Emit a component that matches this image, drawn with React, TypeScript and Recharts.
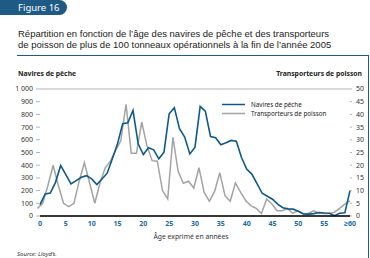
import { CartesianGrid, Line, LineChart, XAxis, YAxis } from "recharts";

// nombre de navires de pêche (axe gauche), par âge 0..60
const navires = [
  90, 174, 180, 265, 397, 326, 253, 279, 305, 318, 292, 247, 292, 337, 450,
  568, 726, 734, 832, 568, 484, 537, 521, 450, 503, 805, 853, 687, 621, 489,
  542, 863, 826, 626, 616, 561, 576, 595, 589, 460, 370, 330, 255, 179, 156,
  132, 94, 65, 56, 54, 38, 16, 15, 19, 27, 24, 22, 3, 22, 25, 200,
];

// transporteurs de poisson (axe droit)
const transporteurs = [
  3, 5, 12, 20, 12, 5, 3.7, 5, 13.7, 21, 13, 5, 13, 19, 21.6, 25.8, 29.7, 44,
  24.7, 24.7, 37, 27.8, 21.8, 21.6, 10, 6.7, 31, 17.6, 12.9, 13.7, 11, 19, 9.3,
  5.8, 9.7, 17, 8, 5.8, 13, 9.3, 6, 4, 3, 1, 6.7, 4.7, 2.1, 2.1, 3, 1, 2, 0.8,
  1, 2, 1.2, 1, 1, 1.5, 3, 4.7, 6,
];

const xTicks = [0, 5, 10, 15, 20, 25, 30, 35, 40, 45, 50, 55, 60];
const leftTicks = [0, 100, 200, 300, 400, 500, 600, 700, 800, 900, 1000];
const rightTicks = [0, 5, 10, 15, 20, 25, 30, 35, 40, 45, 50];

const titleLines = [
  "Répartition en fonction de l’âge des navires de pêche et des transporteurs",
  "de poisson de plus de 100 tonneaux opérationnels à la fin de l’année 2005",
];

const BLUE = "#0d5a8a";
const GREY = "#a3a3a3";
const DARK = "#1e5b84";
const FONT = "'Noto Sans', sans-serif";

const data = navires.map((n, i) => ({ age: i, navires: n, transp: transporteurs[i] }));

export default function App() {
  return (
    <div
      style={{
        position: "absolute",
        left: 0,
        top: 0,
        width: 370,
        height: 258,
        background: "#fff",
        fontFamily: FONT,
        color: "#222",
        overflow: "hidden",
      }}
    >
      {/* onglet */}
      <div
        style={{
          position: "absolute",
          left: 0,
          top: 0,
          width: 67,
          height: 15,
          background: DARK,
          borderRadius: "0 8px 8px 0",
          color: "#fff",
          fontSize: 9.5,
          lineHeight: "15px",
          paddingLeft: 18,
          boxSizing: "border-box",
        }}
      >
        Figure 16
      </div>
      {titleLines.map((t, i) => (
        <div
          key={i}
          style={{
            position: "absolute",
            left: 18,
            top: 28 + i * 11.3,
            height: 11,
            fontFamily: "'Liberation Sans', sans-serif",
            fontSize: 9.5,
            lineHeight: "11px",
            whiteSpace: "nowrap",
          }}
        >
          {t}
        </div>
      ))}
      {/* cadre */}
      <div
        style={{
          position: "absolute",
          left: 17,
          top: 54.5,
          width: 352,
          height: 220,
          borderTop: `1.5px solid ${DARK}`,
          borderRight: `1.5px solid ${DARK}`,
          boxSizing: "border-box",
        }}
      />
      <div
        style={{ position: "absolute", left: 18, top: 69, fontSize: 6.8, fontWeight: 700 }}
      >
        Navires de pêche
      </div>
      <div
        style={{
          position: "absolute",
          right: 8,
          top: 69,
          fontSize: 6.8,
          fontWeight: 700,
        }}
      >
        Transporteurs de poisson
      </div>

      <div style={{ position: "absolute", left: 0, top: 0 }}>
        <LineChart
          width={370}
          height={258}
          data={data}
          margin={{ top: 89, right: 0, bottom: 22, left: 0 }}
        >
          <CartesianGrid horizontal vertical={false} stroke="#b5b5b5" strokeWidth={1} />
          <XAxis
            xAxisId="a"
            dataKey="age"
            type="number"
            domain={[0, 60]}
            ticks={xTicks}
            interval={0}
            height={20}
            tickSize={0}
            tickMargin={5}
            axisLine={{ stroke: "#000", strokeWidth: 1.5 }}
            tick={{ fontSize: 7, fill: "#1b6aa5", fontWeight: 700, fontFamily: FONT }}
            tickFormatter={(v: number) => (v === 60 ? "≥60" : String(v))}
          />
          <XAxis
            xAxisId="t"
            dataKey="age"
            type="number"
            domain={[0, 60]}
            padding={{ left: -2.5, right: 0 }}
            hide
          />
          <YAxis
            yAxisId="l"
            domain={[0, 1000]}
            ticks={leftTicks}
            interval={0}
            width={40}
            axisLine={false}
            tickSize={4}
            tickMargin={3}
            tickLine={{ stroke: "#b5b5b5" }}
            tick={{ fontSize: 7, fill: "#333", fontFamily: FONT }}
            tickFormatter={(v: number) => (v === 1000 ? "1 000" : String(v))}
          />
          <YAxis
            yAxisId="r"
            orientation="right"
            domain={[0, 50]}
            ticks={rightTicks}
            interval={0}
            width={20}
            axisLine={false}
            tickSize={2}
            tickMargin={4}
            tickLine={{ stroke: "#b5b5b5" }}
            tick={{ fontSize: 7, fill: "#333", fontFamily: FONT }}
          />
          <Line
            xAxisId="t"
            yAxisId="r"
            dataKey="transp"
            stroke={GREY}
            strokeWidth={1.5}
            dot={false}
            isAnimationActive={false}
          />
          <Line
            xAxisId="a"
            yAxisId="l"
            dataKey="navires"
            stroke={BLUE}
            strokeWidth={1.6}
            dot={false}
            isAnimationActive={false}
          />
        </LineChart>
      </div>

      {/* légende */}
      <div
        style={{
          position: "absolute",
          left: 218,
          top: 98,
          width: 107,
          height: 20,
          background: "#fff",
          fontSize: 6.3,
        }}
      >
        {[
          { label: "Navires de pêche", color: BLUE },
          { label: "Transporteurs de poisson", color: GREY },
        ].map((item, i) => (
          <div
            key={item.label}
            style={{ position: "absolute", left: 4, top: 1.5 + i * 9, height: 9, display: "flex", alignItems: "center" }}
          >
            <svg width={24} height={9}>
              <line x1={0} x2={23} y1={4.5} y2={4.5} stroke={item.color} strokeWidth={1.5} />
            </svg>
            <span style={{ marginLeft: 5, whiteSpace: "nowrap" }}>{item.label}</span>
          </div>
        ))}
      </div>

      <div
        style={{
          position: "absolute",
          left: 0,
          width: 382,
          top: 232,
          textAlign: "center",
          fontSize: 6.8,
          color: "#333",
        }}
      >
        Âge exprimé en années
      </div>
      <div
        style={{
          position: "absolute",
          left: 17,
          top: 250,
          fontSize: 6,
          fontStyle: "italic",
          color: "#333",
        }}
      >
        Source: Lloyd’s.
      </div>
    </div>
  );
}
